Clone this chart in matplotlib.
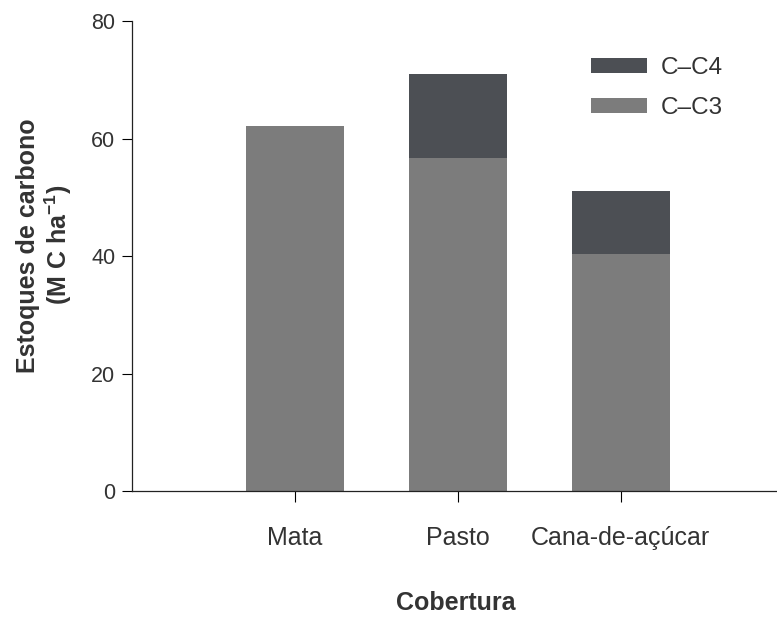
import matplotlib
matplotlib.use("Agg")
import matplotlib.pyplot as plt
import numpy as np

plt.rcParams['font.family'] = ['Liberation Sans', 'DejaVu Sans']
plt.rcParams['mathtext.fontset'] = 'custom'
plt.rcParams['mathtext.rm'] = 'Liberation Sans'
plt.rcParams['mathtext.bf'] = 'Liberation Sans:bold'

# data
coberturas = ["Mata", "Pasto", "Cana-de-açúcar"]
c_c3 = [62.1, 56.6, 40.4]
c_c4 = [0.0, 14.3, 10.6]
yticks = [0, 20, 40, 60, 80]

col_c3 = "#7c7c7c"
col_c4 = "#4c4f54"
txt = "#333333"

fig = plt.figure(figsize=(7.77, 6.17), dpi=100)
ax = fig.add_axes([0.170, 0.204, 0.830, 0.762])

x = np.arange(len(coberturas))
ax.bar(x, c_c3, width=0.6, color=col_c3, label="C–C3", linewidth=0)
ax.bar(x, c_c4, width=0.6, bottom=c_c3, color=col_c4, label="C–C4", linewidth=0)

ax.set_xlim(-1.0, 2.96)
ax.set_ylim(0, 80)
ax.set_yticks(yticks)
ax.set_xticks(x)
ax.set_xticklabels(coberturas, fontsize=18, color=txt)
ax.tick_params(axis='y', labelsize=15.5, labelcolor=txt, length=7, width=0.8, pad=5, direction='out')
ax.tick_params(axis='x', length=8, width=0.8, pad=17, direction='out')

for s in ['top', 'right']:
    ax.spines[s].set_visible(False)
for s in ['left', 'bottom']:
    ax.spines[s].set_linewidth(0.9)
    ax.spines[s].set_color("#222222")

ax.set_xlabel("Cobertura", fontsize=18, fontweight='bold', color=txt)
ax.xaxis.set_label_coords(0.502, -0.238)
ax.xaxis.label.set_va('center')

ax.set_ylabel("Estoques de carbono\n(M C ha$^{\\mathbf{-1}}$)", fontsize=18,
              fontweight='bold', color=txt, linespacing=1.12)
ax.yaxis.set_label_coords(-0.135, 0.523)
ax.yaxis.label.set_va('center')

handles, labels = ax.get_legend_handles_labels()
leg = ax.legend(handles[::-1], labels[::-1], loc='upper left',
                bbox_to_anchor=(591 / 777, 1 - 57 / 617), bbox_transform=fig.transFigure,
                frameon=False, fontsize=17.5, handlelength=2.3, handleheight=0.55,
                handletextpad=0.55, labelspacing=0.75, borderpad=0, borderaxespad=0)
for t in leg.get_texts():
    t.set_color(txt)

fig.savefig("out.png", dpi=100)
